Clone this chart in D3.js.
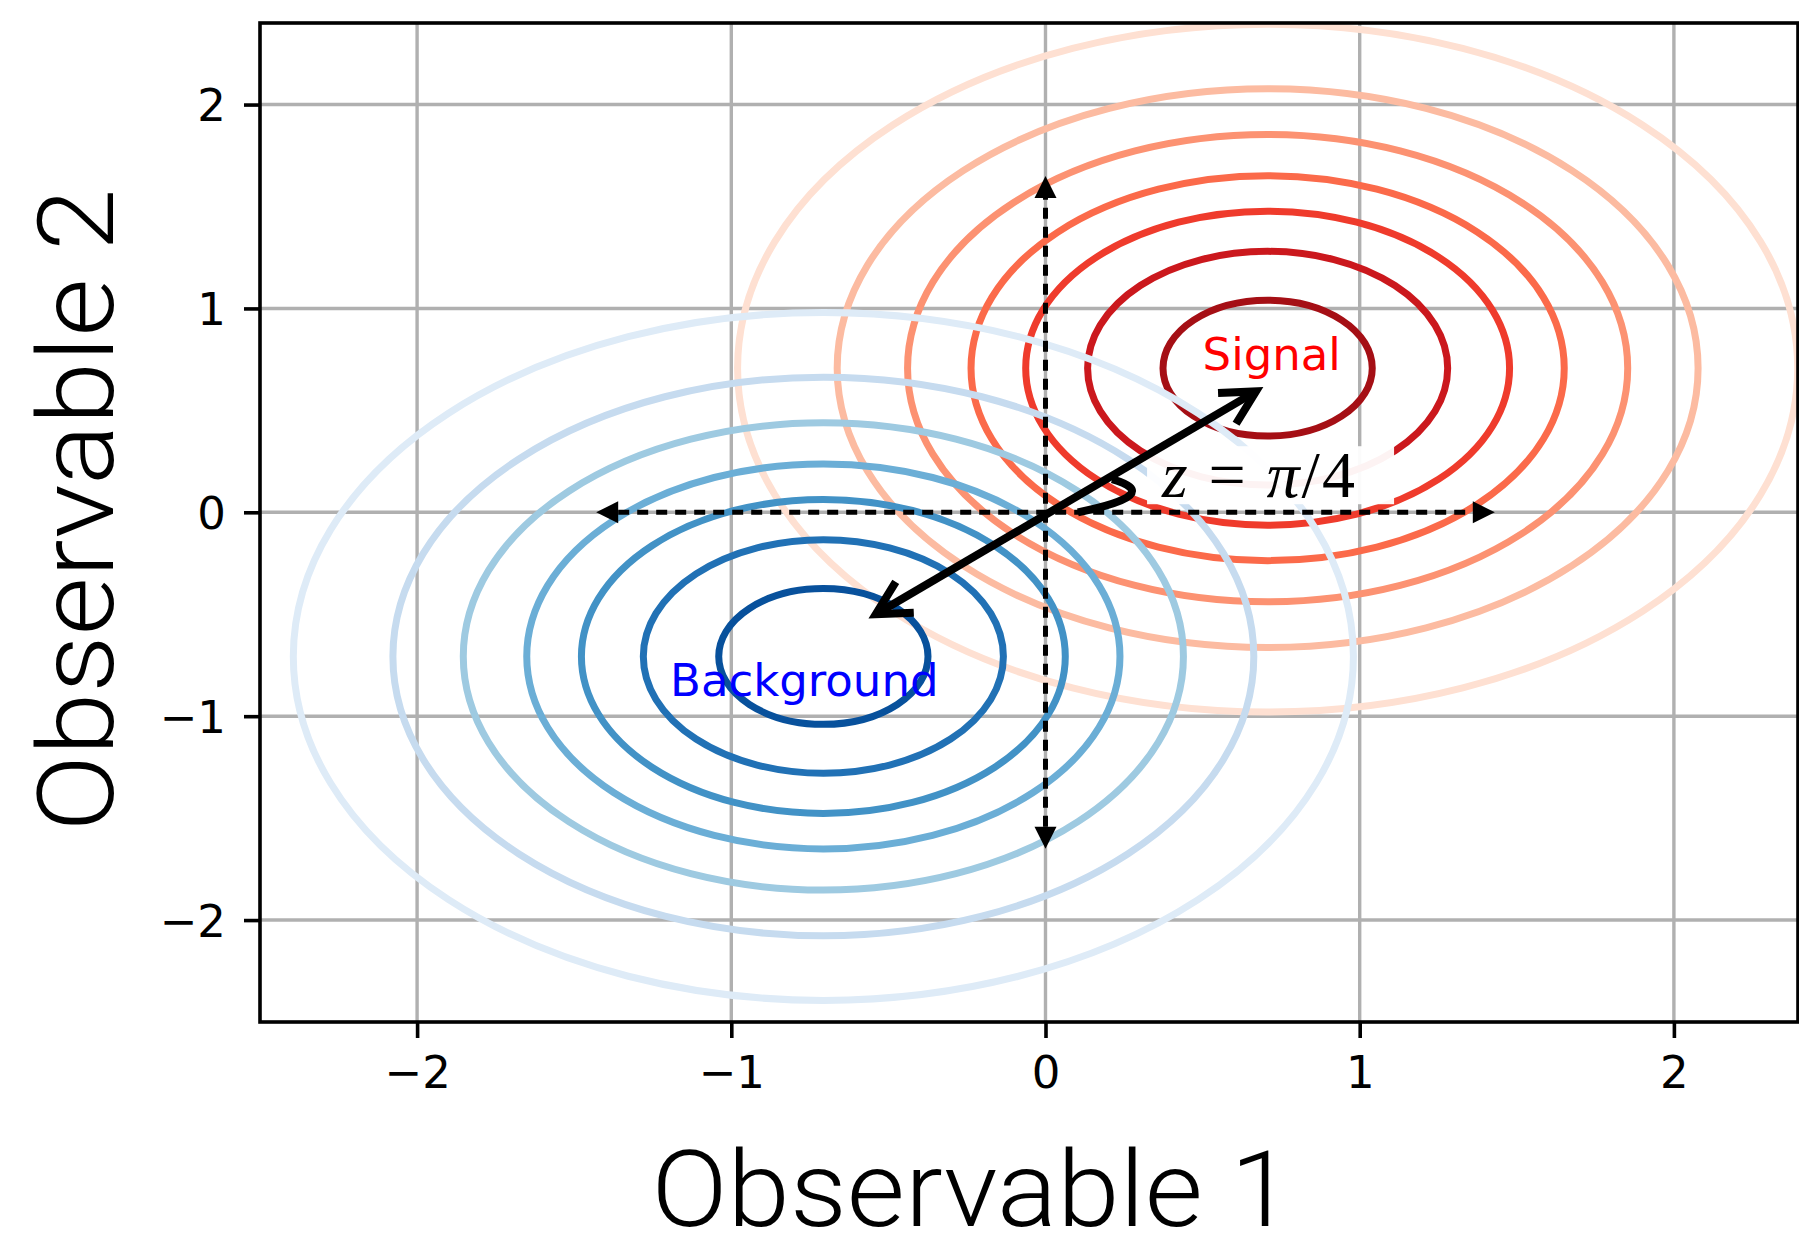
<html>
<script src='https://d3js.org/d3.v7.min.js'></script>
<style>
body {margin: 0; background: white;}
.tick text {font-family: "DejaVu Sans"; font-size: 45px; fill: black;}
.lbl {font-family: Roboto; font-weight: 300; font-size: 106px; fill: black;}
</style>
<body onload='init()'>
<svg width=1799 height=1238></svg>
<script>
// axis limits and ticks
var xDomain = [-2.5, 2.395]
var yDomain = [-2.5, 2.4]
var tickVals = [-2, -1, 0, 1, 2]

// gaussian contours: centres and ring radii (data units), inner -> outer
var signalCentre = [0.707, 0.707]
var backgroundCentre = [-0.707, -0.707]
var ringRadii = [0.333, 0.573, 0.77, 0.944, 1.146, 1.37, 1.687]
var redRings = ["#a50f15", "#cb181d", "#ef3b2c", "#fb6a4a", "#fc9272", "#fcbba1", "#fee0d2"]
var blueRings = ["#08519c", "#2171b5", "#4292c6", "#6baed6", "#9ecae1", "#c6dbef", "#deebf7"]

// dashed double arrows along the axes
var hSpan = [-1.43, 1.43]
var vSpan = [-1.65, 1.65]
// rotated axis arrow, tail -> head
var zArrow = [[-0.54, -0.5], [0.67, 0.593]]
// angle hook: start, control, end
var angleHook = [[0.103, 0.0], [0.38, 0.088], [0.212, 0.162]]

// text labels
var signalLabel = {text: "Signal", x: 0.5, y: 0.7}
var backgroundLabel = {text: "Background", x: -1.195, y: -0.902}
var angleLabel = {x: 0.371, y: 0.074}

function init() {
var svg = d3.select("svg")
var x = d3.scaleLinear().domain(xDomain).range([260, 1798])
var y = d3.scaleLinear().domain(yDomain).range([1022, 23])

svg.append("clipPath").attr("id", "plot").append("rect")
  .attr("x", 260).attr("y", 23).attr("width", 1538).attr("height", 999)

// grid
var grid = svg.append("g").attr("clip-path", "url(#plot)")
grid.selectAll(".gx").data(tickVals).enter().append("line")
  .attr("x1", d => x(d)).attr("x2", d => x(d)).attr("y1", 23).attr("y2", 1022)
  .attr("stroke", "#b0b0b0").attr("stroke-width", 3.4)
grid.selectAll(".gy").data(tickVals).enter().append("line")
  .attr("y1", d => y(d)).attr("y2", d => y(d)).attr("x1", 260).attr("x2", 1798)
  .attr("stroke", "#b0b0b0").attr("stroke-width", 3.4)

var plot = svg.append("g").attr("clip-path", "url(#plot)")

function rings(centre, colors) {
  plot.append("g").selectAll("ellipse").data(ringRadii).enter().append("ellipse")
    .attr("cx", x(centre[0])).attr("cy", y(centre[1]))
    .attr("rx", d => x(d) - x(0)).attr("ry", d => y(0) - y(d))
    .attr("fill", "none").attr("stroke", (d, i) => colors[i]).attr("stroke-width", 7)
}
rings(signalCentre, redRings)
rings(backgroundCentre, blueRings)

plot.append("text").text(signalLabel.text)
  .attr("x", x(signalLabel.x)).attr("y", y(signalLabel.y))
  .style("font-family", "DejaVu Sans").style("font-size", "45px").attr("fill", "red")
plot.append("text").text(backgroundLabel.text)
  .attr("x", x(backgroundLabel.x)).attr("y", y(backgroundLabel.y))
  .style("font-family", "DejaVu Sans").style("font-size", "45px").attr("fill", "blue")

// z = pi/4 label with white box
var bx = x(angleLabel.x), by = y(angleLabel.y)
var boxG = plot.append("g")
var box = boxG.append("rect").attr("fill", "white").attr("opacity", 0.95)
var zt = boxG.append("text").attr("x", bx).attr("y", by)
  .attr("textLength", 193).attr("lengthAdjust", "spacing")
  .style("font-family", "'Liberation Serif'").style("font-size", "66px")
zt.append("tspan").text("z").style("font-style", "italic")
zt.append("tspan").text(" = ")
zt.append("tspan").text("π").style("font-style", "italic")
zt.append("tspan").text("/4")
box.attr("x", bx - 15).attr("y", by - 51).attr("width", 193 + 54).attr("height", 58)

// dashed axes with filled heads
var hl = 22, hw = 11
plot.append("line").attr("x1", x(hSpan[0]) + hl).attr("x2", x(hSpan[1]) - hl)
  .attr("y1", y(0)).attr("y2", y(0))
  .attr("stroke", "black").attr("stroke-width", 5).attr("stroke-dasharray", "11,8")
plot.append("line").attr("y1", y(vSpan[0]) - hl).attr("y2", y(vSpan[1]) + hl)
  .attr("x1", x(0)).attr("x2", x(0))
  .attr("stroke", "black").attr("stroke-width", 5).attr("stroke-dasharray", "11,8")
var heads = [
  [x(hSpan[1]), y(0), -1, 0], [x(hSpan[0]), y(0), 1, 0],
  [x(0), y(vSpan[1]), 0, 1], [x(0), y(vSpan[0]), 0, -1]
]
plot.selectAll(".head").data(heads).enter().append("path")
  .attr("d", function(h) {
    var bxp = h[0] + h[2] * hl, byp = h[1] + h[3] * hl
    return "M" + h[0] + "," + h[1] + "L" + (bxp - h[3] * hw) + "," + (byp - h[2] * hw) +
      "L" + (bxp + h[3] * hw) + "," + (byp + h[2] * hw) + "Z"
  }).attr("fill", "black")

// solid double arrow with open heads
var p0 = [x(zArrow[0][0]), y(zArrow[0][1])], p1 = [x(zArrow[1][0]), y(zArrow[1][1])]
plot.append("line").attr("x1", p0[0]).attr("y1", p0[1]).attr("x2", p1[0]).attr("y2", p1[1])
  .attr("stroke", "black").attr("stroke-width", 8)
function openHead(tip, from) {
  var a = Math.atan2(from[1] - tip[1], from[0] - tip[0]), L = 38, s = 28 * Math.PI / 180
  return "M" + (tip[0] + L * Math.cos(a + s)) + "," + (tip[1] + L * Math.sin(a + s)) +
    "L" + tip[0] + "," + tip[1] +
    "L" + (tip[0] + L * Math.cos(a - s)) + "," + (tip[1] + L * Math.sin(a - s))
}
plot.append("path").attr("d", openHead(p1, p0)).attr("fill", "none")
  .attr("stroke", "black").attr("stroke-width", 8).attr("stroke-linejoin", "miter")
plot.append("path").attr("d", openHead(p0, p1)).attr("fill", "none")
  .attr("stroke", "black").attr("stroke-width", 8).attr("stroke-linejoin", "miter")

var hp = d3.path()
hp.moveTo(x(angleHook[0][0]), y(angleHook[0][1]))
hp.quadraticCurveTo(x(angleHook[1][0]), y(angleHook[1][1]), x(angleHook[2][0]), y(angleHook[2][1]))
plot.append("path").attr("d", hp.toString()).attr("fill", "none")
  .attr("stroke", "black").attr("stroke-width", 8)

// axes
var fmt = d3.format("d")
var xa = svg.append("g").attr("transform", "translate(0,1022)")
  .call(d3.axisBottom(x).tickValues(tickVals).tickFormat(fmt).tickSize(16).tickPadding(16))
var ya = svg.append("g").attr("transform", "translate(260,0)")
  .call(d3.axisLeft(y).tickValues(tickVals).tickFormat(fmt).tickSize(16).tickPadding(18))
svg.selectAll(".domain").remove()
svg.selectAll(".tick line").attr("stroke-width", 3.6)
ya.selectAll(".tick text").attr("dy", "0.36em")
xa.selectAll(".tick text").attr("dy", "0.75em")

svg.append("rect").attr("x", 260).attr("y", 23).attr("width", 1538).attr("height", 999)
  .attr("fill", "none").attr("stroke", "black").attr("stroke-width", 3.6)

svg.append("text").attr("class", "lbl").attr("x", 972).attr("y", 1226)
  .attr("text-anchor", "middle").attr("textLength", 641).attr("lengthAdjust", "spacingAndGlyphs")
  .text("Observable 1")
svg.append("text").attr("class", "lbl").attr("transform", "translate(113,510) rotate(-90)")
  .attr("text-anchor", "middle").attr("textLength", 643).attr("lengthAdjust", "spacingAndGlyphs")
  .text("Observable 2")
}
</script>
</body>
</html>
